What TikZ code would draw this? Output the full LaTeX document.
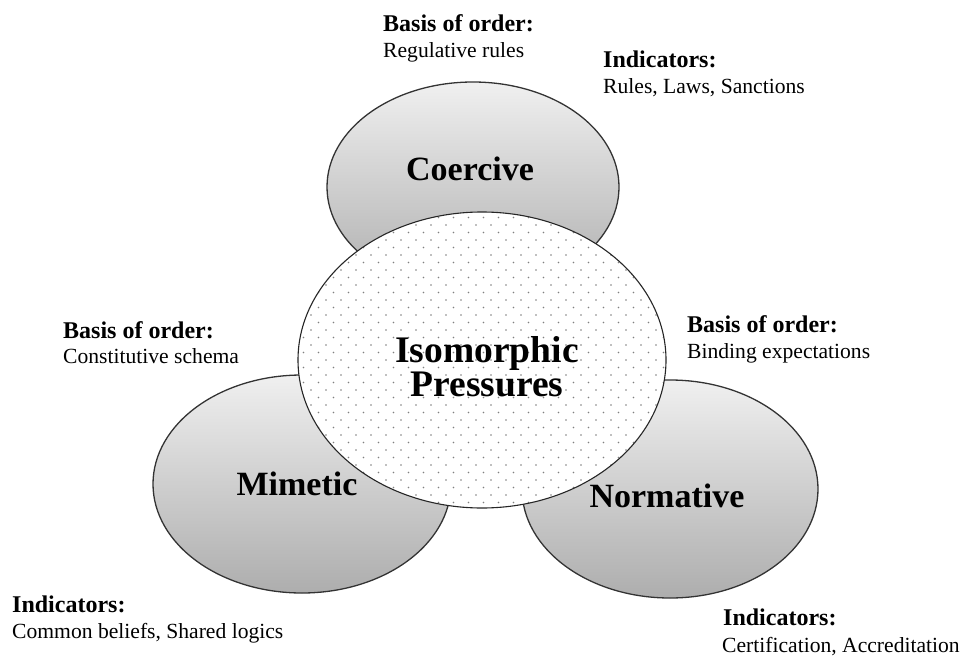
\documentclass[tikz,border=0pt]{standalone}
\usepackage{fontspec}
\setmainfont{Liberation Serif}
\usepackage{tikz}

\begin{document}
\begin{tikzpicture}[x=1pt,y=-1pt,
        pressure/.style={draw=black!80, line width=1.3pt, top color=black!6, bottom color=black!32},
        kind/.style={font=\fontsize{34}{36}\selectfont\bfseries, anchor=base, inner sep=0pt},
        head/.style={font=\fontsize{24}{26}\selectfont\bfseries, anchor=base west, inner sep=0pt},
        body/.style={font=\fontsize{21.6}{26}\selectfont, anchor=base west, inner sep=0pt}]

        \useasboundingbox (0,0) rectangle (964,656);

        % The three outer ellipses
        \draw[pressure] (473,187) ellipse [x radius=146, y radius=105];
        \draw[pressure] (302,484) ellipse [x radius=149, y radius=109];
        \draw[pressure] (670,489) ellipse [x radius=148, y radius=109];

        % Define centre ellipse
        \def\cx{482} % X-coordinate of centre
        \def\cy{360} % Y-coordinate of centre

        % White centre with a dotted fill
        \fill[white] (\cx,\cy) ellipse [x radius=184, y radius=148];
        \begin{scope}
            \clip (\cx,\cy) ellipse [x radius=184, y radius=148];
            \foreach \y in {210,225,...,510} {
                \foreach \x in {296,311,...,671} {
                    \fill[black!50] (\x,\y) circle (0.8);
                    \fill[black!50] (\x+7.5,\y+7.5) circle (0.8);
                }
            }
        \end{scope}
        \draw[black!85, line width=1.1pt] (\cx,\cy) ellipse [x radius=184, y radius=148];

        % Labels of the ellipses
        \node[kind] (coercive) at (470,180) {Coercive};
        \node[kind] (mimetic) at (297,495) {Mimetic};
        \node[kind] (normative) at (667,507) {Normative};
        \node[font=\fontsize{37.5}{34}\selectfont\bfseries, align=center, inner sep=0pt] (iso) at (487,367) {Isomorphic\\Pressures};

        % Coercive
        \node[head] (cbasis) at (383,31) {Basis of order:};
        \node[body] (cbasistext) at (383,57) {Regulative rules};
        \node[head] (cind) at (603,67) {Indicators:};
        \node[body] (cindtext) at (603,93) {Rules, Laws, Sanctions};

        % Mimetic
        \node[head] (mbasis) at (63,338) {Basis of order:};
        \node[body] (mbasistext) at (63,363) {Constitutive schema};
        \node[head] (mind) at (12,612) {Indicators:};
        \node[body] (mindtext) at (12,638) {Common beliefs, Shared logics};

        % Normative
        \node[head] (nbasis) at (687,332) {Basis of order:};
        \node[body] (nbasistext) at (687,358) {Binding expectations};
        \node[head] (nind) at (723,625) {Indicators:};
        \node[body] (nindtext) at (722,652) {Certification, Accreditation};
    \end{tikzpicture}
\end{document}
